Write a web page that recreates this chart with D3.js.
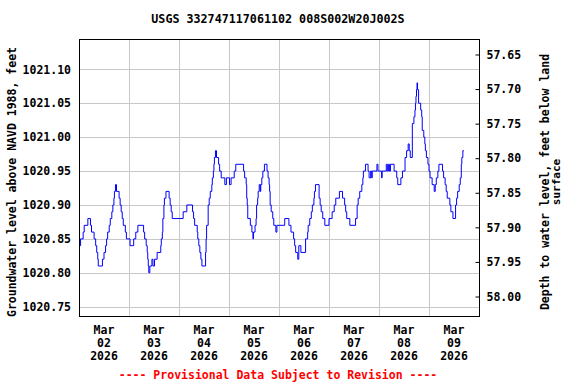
<!DOCTYPE html>
<html>
<head>
<meta charset="utf-8">
<script src="https://cdn.jsdelivr.net/npm/d3@7"></script>
<style>
  body { margin: 0; background: #fff; }
  text { font-family: "DejaVu Sans Mono", monospace; font-weight: bold; }
</style>
</head>
<body>
<div id="chart"></div>
<script>
// hours since 2026-03-02 00:00 and water level (ft above NAVD 1988)
let hours = [0, 0.75, 2, 2.5, 4.25, 5.5, 6, 7.25, 8, 8.5, 9, 9.25, 11.25, 12, 12.75, 13.25, 13.75, 14.5, 15, 15.75,
  16.25, 16.75, 17, 17.5, 18, 19.25, 19.75, 20.25, 20.75, 21.25, 22.25, 22.75, 24.5, 26.25, 27.25, 28.25, 31, 31.5, 32.25, 32.75,
  33, 33.25, 33.5, 34, 35, 35.5, 36.25, 37.5, 39.25, 39.5, 40, 40.25, 40.75, 41, 41.75, 43.25, 43.75, 44.25, 44.75, 50,
  51.75, 54.5, 55, 55.5, 56.75, 57, 57.5, 58, 58.5, 59, 60.75, 61, 61.25, 62, 62.5, 63, 63.75, 64, 64.5, 64.75,
  65, 65.5, 66, 67, 67.5, 68.25, 70, 70.75, 72.25, 73, 74.5, 75.25, 79, 79.5, 80.25, 80.5, 80.75, 81, 82.25, 83,
  83.5, 83.75, 84.5, 85, 85.25, 85.75, 86, 86.5, 87, 87.25, 87.75, 88.25, 89, 90.25, 90.75, 91.25, 91.5, 91.75, 92.25, 93,
  93.5, 94.5, 95, 98.75, 100.75, 101.75, 103, 103.5, 104, 105, 105.5, 106.5, 108.75, 109.75, 110, 110.75, 111.5, 112, 112.75, 113,
  113.5, 115.25, 115.75, 116.25, 117, 118, 120, 121.5, 122.5, 123.25, 125, 126.5, 127.5, 128, 128.5, 130, 132.75, 133.5, 134, 134.75,
  135.75, 136.25, 136.5, 137.5, 138.75, 139.25, 140, 140.5, 140.75, 143, 143.5, 145.25, 145.5, 147.5, 148, 148.5, 149, 149.5, 151.25, 152.5,
  153, 154.5, 155.25, 156.5, 157.25, 158, 158.5, 159, 160, 160.75, 161.25, 161.5, 161.75, 162, 162.25, 162.5, 163, 164, 164.5, 164.75,
  165.5, 166, 166.25, 166.75, 167.5, 168, 168.5, 169.5, 170.5, 171, 171.5, 172.25, 172.75, 174.5, 175, 175.75, 176.25, 176.75, 178, 178.5,
  179.5, 180.75, 181.25, 181.75, 182.5, 183, 183.5, 183.75, 184.25, 184.75];
let levels = [1020.84, 1020.85, 1020.86, 1020.87, 1020.88, 1020.87, 1020.86, 1020.85, 1020.84, 1020.83, 1020.82, 1020.81, 1020.82, 1020.83, 1020.84, 1020.85, 1020.86, 1020.87, 1020.88, 1020.89,
  1020.90, 1020.91, 1020.92, 1020.93, 1020.92, 1020.91, 1020.90, 1020.89, 1020.88, 1020.87, 1020.86, 1020.85, 1020.84, 1020.85, 1020.86, 1020.87, 1020.86, 1020.85, 1020.84, 1020.83,
  1020.82, 1020.81, 1020.80, 1020.81, 1020.82, 1020.81, 1020.82, 1020.83, 1020.84, 1020.85, 1020.86, 1020.88, 1020.90, 1020.91, 1020.92, 1020.91, 1020.90, 1020.89, 1020.88, 1020.89,
  1020.90, 1020.89, 1020.88, 1020.87, 1020.86, 1020.85, 1020.84, 1020.83, 1020.82, 1020.81, 1020.83, 1020.85, 1020.87, 1020.90, 1020.91, 1020.92, 1020.93, 1020.94, 1020.95, 1020.96,
  1020.97, 1020.98, 1020.97, 1020.96, 1020.95, 1020.94, 1020.93, 1020.94, 1020.93, 1020.94, 1020.95, 1020.96, 1020.95, 1020.94, 1020.93, 1020.91, 1020.90, 1020.88, 1020.87, 1020.86,
  1020.85, 1020.86, 1020.87, 1020.88, 1020.90, 1020.91, 1020.92, 1020.93, 1020.92, 1020.93, 1020.94, 1020.95, 1020.96, 1020.95, 1020.94, 1020.93, 1020.92, 1020.90, 1020.89, 1020.88,
  1020.87, 1020.86, 1020.87, 1020.88, 1020.87, 1020.86, 1020.85, 1020.84, 1020.83, 1020.82, 1020.84, 1020.83, 1020.85, 1020.86, 1020.87, 1020.88, 1020.89, 1020.90, 1020.91, 1020.92,
  1020.93, 1020.91, 1020.90, 1020.89, 1020.88, 1020.87, 1020.88, 1020.89, 1020.90, 1020.91, 1020.92, 1020.91, 1020.90, 1020.89, 1020.88, 1020.87, 1020.88, 1020.90, 1020.91, 1020.92,
  1020.93, 1020.94, 1020.95, 1020.96, 1020.95, 1020.94, 1020.95, 1020.94, 1020.95, 1020.96, 1020.95, 1020.94, 1020.95, 1020.96, 1020.95, 1020.96, 1020.95, 1020.96, 1020.95, 1020.94,
  1020.93, 1020.94, 1020.95, 1020.97, 1020.98, 1020.99, 1020.98, 1020.97, 1021.02, 1021.03, 1021.04, 1021.05, 1021.06, 1021.07, 1021.08, 1021.07, 1021.05, 1021.04, 1021.03, 1021.01,
  1021.00, 1020.99, 1020.98, 1020.97, 1020.96, 1020.95, 1020.94, 1020.93, 1020.92, 1020.93, 1020.94, 1020.95, 1020.96, 1020.95, 1020.94, 1020.93, 1020.92, 1020.91, 1020.90, 1020.89,
  1020.88, 1020.90, 1020.91, 1020.92, 1020.93, 1020.94, 1020.96, 1020.97, 1020.98, 1020.98];

let leftTicks = [1020.75, 1020.80, 1020.85, 1020.90, 1020.95, 1021.00, 1021.05, 1021.10];
let rightTicks = [57.65, 57.70, 57.75, 57.80, 57.85, 57.90, 57.95, 58.00];
let days = ['02', '03', '04', '05', '06', '07', '08', '09'];

let width = 576;
let height = 384;
let plotLeft = 79, plotRight = 479, plotTop = 39, plotBottom = 316;
let start = new Date(2026, 2, 2);
let end = new Date(2026, 2, 10);

let svg = d3.select('#chart')
    .append('svg')
    .attr('width', width)
    .attr('height', height);

let x = d3.scaleTime().domain([start, end]).range([plotLeft, plotRight]);
let y = d3.scaleLinear().domain([1020.7363, 1021.1447]).range([plotBottom, plotTop]);
let yr = d3.scaleLinear().domain([58.0282, 57.6276]).range([plotBottom, plotTop]);

let dataset = hours.map(function (h, i) {
    return { date: new Date(start.getTime() + h * 3600e3), value: levels[i] };
});

// gridlines
svg.append('g')
    .selectAll('line')
    .data(leftTicks)
    .enter()
    .append('line')
    .attr('x1', plotLeft).attr('x2', plotRight)
    .attr('y1', function (d) { return Math.round(y(d)) + 0.5; })
    .attr('y2', function (d) { return Math.round(y(d)) + 0.5; })
    .attr('stroke', '#c8c8c8');

let dayDates = d3.timeDay.range(new Date(2026, 2, 3), end);
svg.append('g')
    .selectAll('line')
    .data(dayDates)
    .enter()
    .append('line')
    .attr('x1', function (d) { return Math.round(x(d)) + 0.5; })
    .attr('x2', function (d) { return Math.round(x(d)) + 0.5; })
    .attr('y1', plotTop).attr('y2', plotBottom)
    .attr('stroke', '#c8c8c8');

// data line
let line = d3.line()
    .x(function (d) { return x(d.date); })
    .y(function (d) { return y(d.value); })
    .curve(d3.curveStepAfter);

svg.append('path')
    .datum(dataset)
    .attr('d', line)
    .attr('fill', 'none')
    .attr('stroke', '#0000ff')
    .attr('stroke-width', 1);

// frame
svg.append('rect')
    .attr('x', plotLeft + 0.5).attr('y', plotTop + 0.5)
    .attr('width', plotRight - plotLeft).attr('height', plotBottom - plotTop)
    .attr('fill', 'none')
    .attr('stroke', '#000');

// left axis
let leftAxis = d3.axisLeft(y).tickValues(leftTicks).tickSize(0).tickPadding(8)
    .tickFormat(d3.format('.2f'));
let gl = svg.append('g').attr('transform', 'translate(' + plotLeft + ',0)').call(leftAxis);
gl.select('.domain').remove();
gl.selectAll('text').attr('font-size', 11.5).attr('font-family', '"DejaVu Sans Mono", monospace').attr('fill', '#000');

// right axis, ticks pointing into the plot
let rightAxis = d3.axisLeft(yr).tickValues(rightTicks).tickSize(4)
    .tickFormat(d3.format('.2f'));
let gr = svg.append('g').attr('transform', 'translate(' + (plotRight + 0.5) + ',0)').call(rightAxis);
gr.select('.domain').remove();
gr.selectAll('text').attr('text-anchor', 'start').attr('x', 7)
    .attr('font-size', 11.5).attr('font-family', '"DejaVu Sans Mono", monospace').attr('fill', '#000');
gr.selectAll('line').attr('stroke', '#000');

// x labels, centred on each day
let noon = days.map(function (d, i) { return new Date(2026, 2, 2 + i, 12); });
let xl = svg.append('g')
    .selectAll('text')
    .data(noon)
    .enter()
    .append('text')
    .attr('text-anchor', 'middle')
    .attr('font-size', 11.5)
    .attr('x', function (d) { return x(d); });
xl.append('tspan').attr('x', function (d) { return x(d); }).attr('y', 334).text('Mar');
xl.append('tspan').attr('x', function (d) { return x(d); }).attr('y', 347).text(function (d, i) { return days[i]; });
xl.append('tspan').attr('x', function (d) { return x(d); }).attr('y', 360).text('2026');

// titles
svg.append('text')
    .attr('x', 278).attr('y', 23)
    .attr('text-anchor', 'middle')
    .attr('font-size', 11.7)
    .text('USGS 332747117061102 008S002W20J002S');

svg.append('text')
    .attr('transform', 'translate(16,182) rotate(-90)')
    .attr('text-anchor', 'middle')
    .attr('font-size', 11.5)
    .text('Groundwater level above NAVD 1988, feet');

svg.append('text')
    .attr('transform', 'translate(549,182) rotate(-90)')
    .attr('text-anchor', 'middle')
    .attr('font-size', 11.5)
    .text('Depth to water level, feet below land');

svg.append('text')
    .attr('transform', 'translate(560,182) rotate(-90)')
    .attr('text-anchor', 'middle')
    .attr('font-size', 11)
    .attr('font-weight', 'normal')
    .text('surface');

svg.append('text')
    .attr('x', 278).attr('y', 379)
    .attr('text-anchor', 'middle')
    .attr('font-size', 11.5)
    .attr('fill', '#ff0000')
    .text('---- Provisional Data Subject to Revision ----');
</script>
</body>
</html>
